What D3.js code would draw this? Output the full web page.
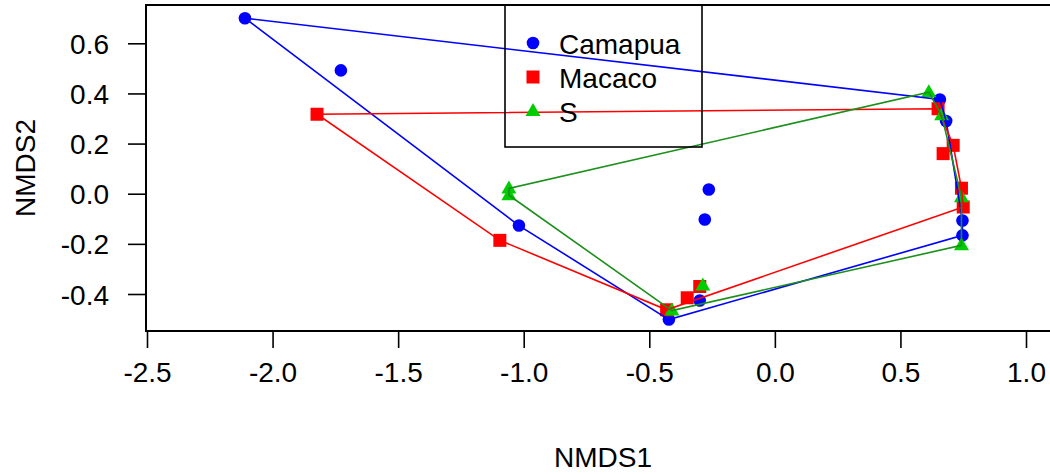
<!DOCTYPE html>
<meta charset="utf-8">
<style>
    body { margin: 0; background: #fff; }
    text {
        font-family: "Liberation Sans", Arial, sans-serif;
        font-size: 28px;
        fill: #000;
    }
    .hull { fill: none; stroke-width: 1.6px; }
</style>
<svg id="svg" width="1050" height="474"></svg>
<script src="https://cdn.jsdelivr.net/npm/d3@7/dist/d3.min.js"></script>
<script>

    // NMDS scores, one list per site
    var camapua = [[-2.110, 0.700], [-1.728, 0.492], [-0.263, 0.017], [-0.279, -0.103],
                   [-1.019, -0.127], [-0.422, -0.502], [-0.299, -0.426], [0.657, 0.376],
                   [0.682, 0.290], [0.747, -0.107], [0.747, -0.166]];
    var macaco = [[-1.823, 0.317], [-1.095, -0.186], [-0.431, -0.463], [-0.349, -0.415],
                  [-0.299, -0.370], [0.650, 0.339], [0.710, 0.193], [0.670, 0.160],
                  [0.743, 0.022], [0.750, -0.053]];
    var sGroup = [[0.613, 0.405], [0.664, 0.313], [-1.059, 0.021], [-1.059, -0.006],
                  [-0.410, -0.466], [-0.287, -0.366], [0.743, -0.014], [0.743, -0.206]];

    var groupNames = ["Camapua", "Macaco", "S"];
    var xTicks = [-2.5, -2.0, -1.5, -1.0, -0.5, 0.0, 0.5, 1.0];
    var yTicks = [-0.4, -0.2, 0.0, 0.2, 0.4, 0.6];

    var groups = [
        {name: groupNames[0], pts: camapua, shape: "circle", color: "#0000ff", line: "#0000ff"},
        {name: groupNames[1], pts: macaco, shape: "square", color: "#ff0000", line: "#ff0000"},
        {name: groupNames[2], pts: sGroup, shape: "triangle", color: "#00cd00", line: "#1c8f1c"}
    ];

    var svg = d3.select("svg");

    // plot box (right side runs past the window, like the original)
    var box = {left: 146, top: 5, right: 1060, bottom: 331};

    var x = d3.scaleLinear().domain([-2.5, 1.0]).range([147, 1026]);
    var y = d3.scaleLinear().domain([-0.4, 0.6]).range([294, 43.3]);

    function marker(sel, shape, color) {
        if (shape === "circle") {
            sel.append("circle").attr("r", 6.3).attr("fill", color);
        } else if (shape === "square") {
            sel.append("rect").attr("x", -6.5).attr("y", -6.5)
                .attr("width", 13).attr("height", 13).attr("fill", color);
        } else {
            sel.append("path").attr("d", "M0,-8L7.5,5L-7.5,5Z").attr("fill", color);
        }
    }

    // points
    groups.forEach(function (g) {
        svg.append("g").selectAll("g")
            .data(g.pts)
            .enter().append("g")
            .attr("transform", function (d) { return "translate(" + x(d[0]) + "," + y(d[1]) + ")"; })
            .each(function () { marker(d3.select(this), g.shape, g.color); });
    });

    // convex hulls
    groups.forEach(function (g) {
        var hull = d3.polygonHull(g.pts.map(function (d) { return [x(d[0]), y(d[1])]; }));
        svg.append("path")
            .attr("class", "hull")
            .attr("stroke", g.line)
            .attr("d", "M" + hull.join("L") + "Z");
    });

    // axes
    var xAxis = svg.append("g").attr("transform", "translate(0," + box.bottom + ")")
        .call(d3.axisBottom(x).tickValues(xTicks).tickSize(17).tickPadding(14)
            .tickFormat(d3.format(".1f")));
    var yAxis = svg.append("g").attr("transform", "translate(" + box.left + ",0)")
        .call(d3.axisLeft(y).tickValues(yTicks).tickSize(18).tickPadding(19)
            .tickFormat(d3.format(".1f")));

    [xAxis, yAxis].forEach(function (a) {
        a.select(".domain").remove();
        a.selectAll("line").attr("stroke", "#000").attr("stroke-width", 1.6);
        a.selectAll("text").attr("font-size", 28)
            .attr("font-family", "'Liberation Sans', Arial, sans-serif")
            .attr("fill", "#000");
    });
    xAxis.selectAll("text").text(function (d) { return d3.format(".1f")(d).replace("−", "-"); });
    yAxis.selectAll("text").text(function (d) { return d3.format(".1f")(d).replace("−", "-"); })
        .attr("dy", null).attr("y", 10);

    svg.append("rect")
        .attr("x", box.left).attr("y", box.top)
        .attr("width", box.right - box.left).attr("height", box.bottom - box.top)
        .attr("fill", "none").attr("stroke", "#000").attr("stroke-width", 2);

    // axis titles
    svg.append("text").attr("x", (box.left + box.right) / 2).attr("y", 467)
        .attr("text-anchor", "middle").text("NMDS1");
    svg.append("text").attr("transform", "translate(35," + (box.top + box.bottom) / 2 + ") rotate(-90)")
        .attr("text-anchor", "middle").text("NMDS2");

    // legend (no fill: the hull lines show through it)
    var leg = svg.append("g");
    leg.append("rect").attr("x", 505).attr("y", 5).attr("width", 197).attr("height", 142)
        .attr("fill", "none").attr("stroke", "#000").attr("stroke-width", 1.6);
    groups.forEach(function (g, i) {
        var ry = 43 + i * 34;
        var m = leg.append("g").attr("transform", "translate(533," + ry + ")");
        marker(m, g.shape, g.color);
        leg.append("text").attr("x", 559).attr("y", ry + 11).attr("font-size", 30).text(g.name);
    });

</script>
